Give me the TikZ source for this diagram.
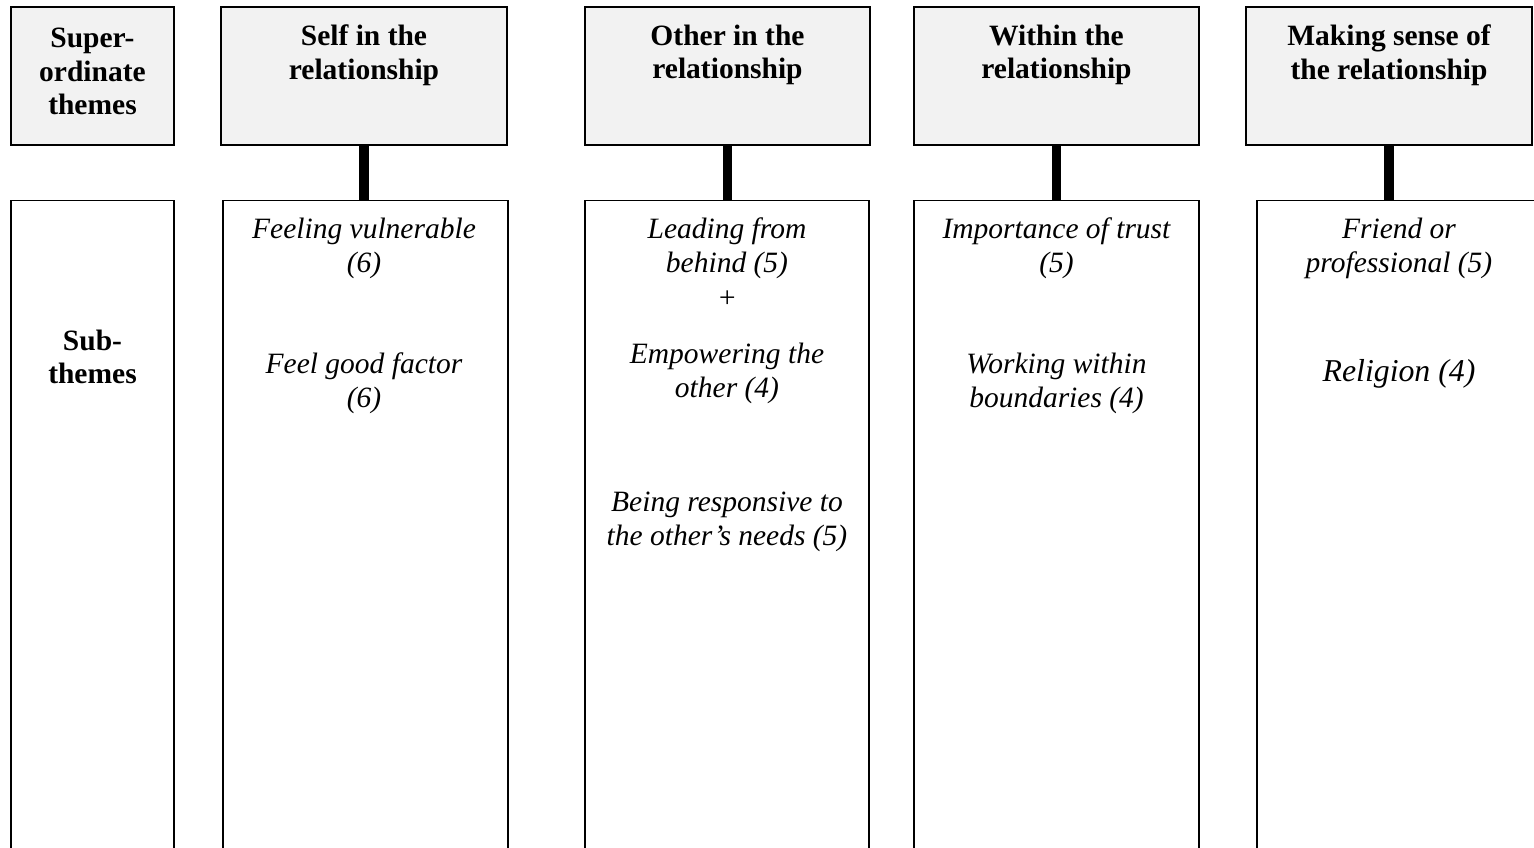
\documentclass[tikz,border=0pt]{standalone}
\usepackage{fontspec}
\setmainfont{Liberation Serif}
\begin{document}
\begin{tikzpicture}[x=1pt,y=-1pt,
  topbox/.style={draw=black,line width=2.6pt,fill=gray!10,minimum height=138pt,inner sep=0pt},
  subbox/.style={draw=black,line width=1.2pt,fill=white,minimum height=680pt,inner sep=0pt},
  head/.style={align=center,inner sep=0pt,font=\fontsize{29.5}{33.5}\selectfont\bfseries},
  sub/.style={align=center,inner sep=0pt,font=\fontsize{29.5}{33.8}\selectfont\itshape},
  link/.style={line width=9.5pt}]
\useasboundingbox (0,0) rectangle (1534,847);
\clip (0,0) rectangle (1534,847);
% top boxes
\node[topbox,minimum width=163pt] (t0) at (92.5,76) {};
\node[topbox,minimum width=286pt] (t1) at (364,76) {};
\node[topbox,minimum width=285pt] (t2) at (727.5,76) {};
\node[topbox,minimum width=285pt] (t3) at (1056.5,76) {};
\node[topbox,minimum width=286pt] (t4) at (1389,76) {};
% sub boxes
\node[subbox,minimum width=163pt,anchor=north] (b0) at (92.5,200) {};
\node[subbox,minimum width=285pt,anchor=north] (b1) at (365.5,200) {};
\node[subbox,minimum width=284pt,anchor=north] (b2) at (727,200) {};
\node[subbox,minimum width=285pt,anchor=north] (b3) at (1056.5,200) {};
\node[subbox,minimum width=285pt,anchor=north] (b4) at (1399.5,200) {};
% connectors
\draw[link] (t1.south) -- (t1.south |- b1.north);
\draw[link] (t2.south) -- (t2.south |- b2.north);
\draw[link] (t3.south) -- (t3.south |- b3.north);
\draw[link] (t4.south) -- (t4.south |- b4.north);
% headings
\node[head] (h0) at (92.5,71.5) {Super-\\ordinate\\themes};
\node[head] (h1) at (364,55) {Self in the\\relationship};
\node[head] (h2) at (727.5,55) {Other in the\\relationship};
\node[head] (h3) at (1056.5,55) {Within the\\relationship};
\node[head] (h4) at (1389,55) {Making sense of\\the relationship};
% sub-theme texts
\node[head] (s0) at (92.5,357) {Sub-\\themes};
\node[sub] (s1a) at (364,248.5) {Feeling vulnerable\\(6)};
\node[sub] (s1b) at (364,383) {Feel good factor\\(6)};
\node[sub] (s2a) at (727,248.5) {Leading from\\behind (5)};
\node[sub] (s2p) at (727,299) {+};
\node[sub] (s2b) at (727,373) {Empowering the\\other (4)};
\node[sub] (s2c) at (727,521.5) {Being responsive to\\the other’s needs (5)};
\node[sub] (s3a) at (1056.5,248.5) {Importance of trust\\(5)};
\node[sub] (s3b) at (1056.5,383) {Working within\\boundaries (4)};
\node[sub] (s4a) at (1399,248.5) {Friend or\\professional (5)};
\node[sub,font=\fontsize{31.8}{36}\selectfont\itshape] (s4b) at (1399,374) {Religion (4)};
\end{tikzpicture}
\end{document}
